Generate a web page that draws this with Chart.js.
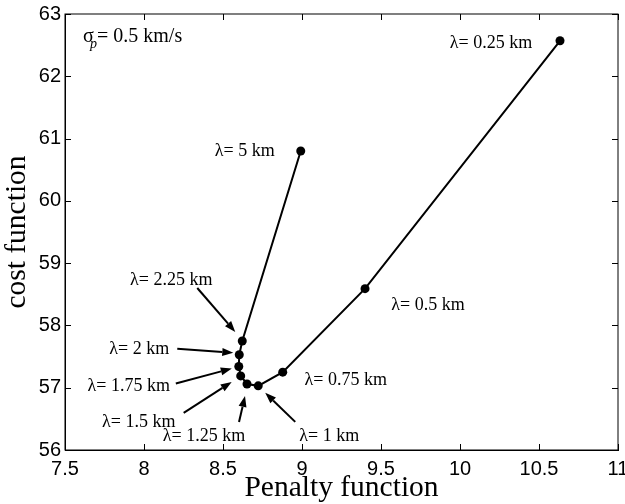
<!DOCTYPE html>
<html>
<head>
<meta charset="utf-8">
<script src="https://cdn.jsdelivr.net/npm/chart.js@4.4.0/dist/chart.umd.min.js"></script>
<style>
  html, body { margin: 0; padding: 0; background: #fff; }
  #wrap { width: 625px; height: 504px; }
</style>
</head>
<body>
<div id="wrap"><canvas id="c" width="625" height="504"></canvas></div>
<script>
// λ (km) values, penalty function (x) and cost function (y)
const lambdaKm = [0.25, 0.5, 0.75, 1, 1.25, 1.5, 1.75, 2, 2.25, 5];
const penalty  = [10.633, 9.399, 8.878, 8.723, 8.652, 8.612, 8.600, 8.603, 8.622, 8.992];
const cost     = [62.57, 58.59, 57.25, 57.03, 57.06, 57.19, 57.34, 57.53, 57.75, 60.80];

const xTicks = [7.5, 8, 8.5, 9, 9.5, 10, 10.5, 11];
const yTicks = [56, 57, 58, 59, 60, 61, 62, 63];

const serif = '"Liberation Serif", "Times New Roman", serif';
const sans = '"Liberation Sans", Arial, sans-serif';

// label placement relative to each point (pixels): label centre, optional arrow start/end
const labelPos = [
  { dx: -69, dy: 2 },
  { dx: 63, dy: 17 },
  { dx: 63, dy: 8 },
  { dx: 71, dy: 50, arrow: [37, 36, 7, 7] },
  { dx: -43, dy: 52, arrow: [-8, 38, -2, 12] },
  { dx: -102, dy: 46, arrow: [-57, 37, -9, 6] },
  { dx: -110, dy: 20, arrow: [-63, 17, -7, 2] },
  { dx: -100, dy: -5, arrow: [-62, -6, -6, -2] },
  { dx: -71, dy: -61, arrow: [-45, -53, -7, -9] },
  { dx: -56, dy: 0 },
];

function drawArrow(ctx, x1, y1, x2, y2) {
  const ang = Math.atan2(y2 - y1, x2 - x1);
  const hl = 11, hw = 4;
  const bx = x2 - hl * Math.cos(ang), by = y2 - hl * Math.sin(ang);
  ctx.beginPath();
  ctx.moveTo(x1, y1);
  ctx.lineTo(bx, by);
  ctx.lineWidth = 2;
  ctx.stroke();
  ctx.beginPath();
  ctx.moveTo(x2, y2);
  ctx.lineTo(bx + hw * Math.sin(ang), by - hw * Math.cos(ang));
  ctx.lineTo(bx - hw * Math.sin(ang), by + hw * Math.cos(ang));
  ctx.closePath();
  ctx.fill();
}

const framePlugin = {
  id: 'frame',
  afterDraw(chart) {
    const { ctx, chartArea: a, scales: { x, y } } = chart;
    ctx.save();
    ctx.strokeStyle = '#000';
    ctx.fillStyle = '#000';
    ctx.lineWidth = 1;
    ctx.strokeRect(a.left, a.top, a.right - a.left, a.bottom - a.top);
    // inward ticks on all four sides
    const tl = 6;
    ctx.beginPath();
    xTicks.forEach(v => {
      const px = Math.round(x.getPixelForValue(v)) + 0.5;
      ctx.moveTo(px, a.bottom); ctx.lineTo(px, a.bottom - tl);
      ctx.moveTo(px, a.top); ctx.lineTo(px, a.top + tl);
    });
    yTicks.forEach(v => {
      const py = Math.round(y.getPixelForValue(v)) + 0.5;
      ctx.moveTo(a.left, py); ctx.lineTo(a.left + tl, py);
      ctx.moveTo(a.right, py); ctx.lineTo(a.right - tl, py);
    });
    ctx.stroke();

    // λ labels + arrows
    ctx.font = '18px ' + serif;
    ctx.textAlign = 'center';
    ctx.textBaseline = 'middle';
    lambdaKm.forEach((l, i) => {
      const px = x.getPixelForValue(penalty[i]);
      const py = y.getPixelForValue(cost[i]);
      const p = labelPos[i];
      ctx.fillText('λ= ' + l + ' km', px + p.dx, py + p.dy);
      if (p.arrow) drawArrow(ctx, px + p.arrow[0], py + p.arrow[1], px + p.arrow[2], py + p.arrow[3]);
    });

    // sigma_p note
    ctx.textAlign = 'left';
    ctx.textBaseline = 'alphabetic';
    ctx.font = '20px ' + serif;
    ctx.fillText('σ', 83, 42);
    ctx.font = 'italic 14px ' + serif;
    ctx.fillText('p', 90, 48);
    ctx.font = '20px ' + serif;
    ctx.fillText('= 0.5 km/s', 97, 42);
    ctx.restore();
  }
};

new Chart(document.getElementById('c'), {
  type: 'scatter',
  data: {
    datasets: [{
      data: penalty.map((v, i) => ({ x: v, y: cost[i] })),
      showLine: true,
      borderColor: '#000',
      borderWidth: 2,
      backgroundColor: '#000',
      pointBackgroundColor: '#000',
      pointBorderColor: '#000',
      pointRadius: 4.5,
      pointBorderWidth: 0,
      tension: 0,
    }]
  },
  options: {
    responsive: false,
    animation: false,
    layout: { padding: { top: 14, right: 7, left: 0, bottom: 0 } },
    plugins: { legend: { display: false }, tooltip: { enabled: false } },
    scales: {
      x: {
        type: 'linear', min: 7.5, max: 11,
        afterBuildTicks: s => { s.ticks = xTicks.map(v => ({ value: v })); },
        afterFit: s => { s.height = 54; s.paddingLeft = 0; s.paddingRight = 0; },
        ticks: { color: '#000', font: { family: sans, size: 20 }, padding: 7, maxRotation: 0, callback: v => String(v) },
        grid: { display: true, drawOnChartArea: false, drawTicks: false },
        border: { display: true, color: '#000', width: 1 },
        title: { display: true, text: 'Penalty function', color: '#000', font: { family: serif, size: 29.5, lineHeight: 1 }, padding: { top: 0, bottom: 1 } }
      },
      y: {
        type: 'linear', min: 56, max: 63,
        afterBuildTicks: s => { s.ticks = yTicks.map(v => ({ value: v })); },
        afterFit: s => { s.width = 65; s.paddingTop = 0; s.paddingBottom = 0; },
        ticks: { color: '#000', font: { family: sans, size: 20 }, padding: 4, callback: v => String(v) },
        grid: { display: true, drawOnChartArea: false, drawTicks: false },
        border: { display: true, color: '#000', width: 1 },
        title: { display: true, text: 'cost function', color: '#000', font: { family: serif, size: 29.5, lineHeight: 1 }, padding: { top: 2, bottom: 0 } }
      }
    }
  },
  plugins: [framePlugin]
});
</script>
</body>
</html>
